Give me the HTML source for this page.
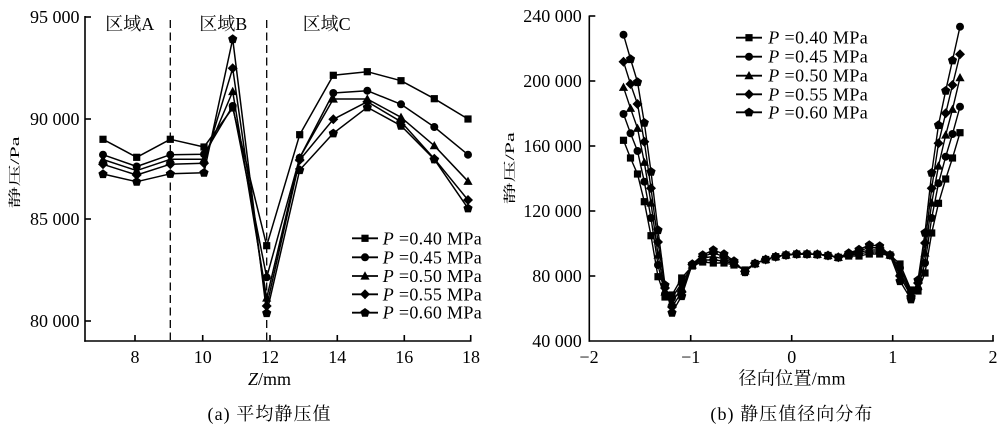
<!DOCTYPE html>
<html><head><meta charset="utf-8"><style>
html,body{margin:0;padding:0;background:#fff;}
svg{display:block;}
text{font-family:"Liberation Serif","Noto Serif CJK SC",serif;fill:#000;}
</style></head><body>
<svg width="1000" height="430" viewBox="0 0 1000 430" xmlns="http://www.w3.org/2000/svg">
<defs>
<marker id="sq" markerUnits="userSpaceOnUse" markerWidth="12" markerHeight="12" refX="6" refY="6" overflow="visible"><rect x="2.4" y="2.4" width="7.2" height="7.2" fill="#000"/></marker>
<marker id="ci" markerUnits="userSpaceOnUse" markerWidth="12" markerHeight="12" refX="6" refY="6" overflow="visible"><circle cx="6" cy="6" r="4" fill="#000"/></marker>
<marker id="tr" markerUnits="userSpaceOnUse" markerWidth="12" markerHeight="12" refX="6" refY="6" overflow="visible"><polygon points="6,1.3 10.6,9.6 1.4,9.6" fill="#000"/></marker>
<marker id="di" markerUnits="userSpaceOnUse" markerWidth="12" markerHeight="12" refX="6" refY="6" overflow="visible"><polygon points="6,1 11,6 6,11 1,6" fill="#000"/></marker>
<marker id="pe" markerUnits="userSpaceOnUse" markerWidth="12" markerHeight="12" refX="6" refY="6" overflow="visible"><polygon points="6,1.3 10.6,4.6 8.9,10.1 3.1,10.1 1.4,4.6" fill="#000"/></marker>
</defs>

<!-- ============ LEFT CHART ============ -->
<g stroke="#000" stroke-width="1.6" fill="none">
<line x1="85" y1="16" x2="85" y2="341.8"/>
<line x1="84.2" y1="341" x2="471.5" y2="341"/>
<!-- y ticks -->
<line x1="85" y1="17" x2="91" y2="17"/>
<line x1="85" y1="119" x2="91" y2="119"/>
<line x1="85" y1="219" x2="91" y2="219"/>
<line x1="85" y1="321" x2="91" y2="321"/>
<!-- x ticks -->
<line x1="135" y1="341" x2="135" y2="335"/>
<line x1="202.7" y1="341" x2="202.7" y2="335"/>
<line x1="270" y1="341" x2="270" y2="335"/>
<line x1="337.3" y1="341" x2="337.3" y2="335"/>
<line x1="404.3" y1="341" x2="404.3" y2="335"/>
<line x1="470.7" y1="341" x2="470.7" y2="335"/>
</g>
<g stroke="#000" stroke-width="1.3" stroke-dasharray="8 4.5">
<line x1="170.3" y1="20" x2="170.3" y2="340"/>
<line x1="266.7" y1="20" x2="266.7" y2="340"/>
</g>
<g font-size="18" text-anchor="end">
<text x="79.5" y="23">95 000</text>
<text x="79.5" y="125">90 000</text>
<text x="79.5" y="225">85 000</text>
<text x="79.5" y="327">80 000</text>
</g>
<g font-size="18" text-anchor="middle">
<text x="135" y="363">8</text>
<text x="202.7" y="363">10</text>
<text x="270" y="363">12</text>
<text x="337.3" y="363">14</text>
<text x="404.3" y="363">16</text>
<text x="471" y="363">18</text>
<text x="269.5" y="385"><tspan font-style="italic">Z</tspan>/mm</text>
<text x="269" y="420" textLength="123" lengthAdjust="spacing">(a)  平均静压值</text>
</g>
<g font-size="18">
<text x="105.3" y="30" textLength="49" lengthAdjust="spacingAndGlyphs">区域A</text>
<text x="199.3" y="30" textLength="48" lengthAdjust="spacingAndGlyphs">区域B</text>
<text x="302.7" y="30" textLength="48" lengthAdjust="spacingAndGlyphs">区域C</text>
</g>
<text font-size="20" dominant-baseline="central" text-anchor="middle" transform="translate(15,172.5) rotate(-90) scale(1.1,0.62)">静压/Pa</text>

<g fill="none" stroke="#000" stroke-width="1.5" stroke-linejoin="round">
<polyline marker-start="url(#sq)" marker-mid="url(#sq)" marker-end="url(#sq)" points="103,139.3 136.7,157.3 170.3,139.3 204,147 232.7,108 266.7,245.7 299.7,134.7 333.3,75.3 367.3,71.7 401,80.7 434.3,98.7 468,119"/>
<polyline marker-start="url(#ci)" marker-mid="url(#ci)" marker-end="url(#ci)" points="103,154.7 136.7,166.5 170.3,154.7 204,154.2 232.7,106 266.7,277.3 299.7,157.7 333.3,93 367.3,90.7 401,104.3 434.3,127 468,154.7"/>
<polyline marker-start="url(#tr)" marker-mid="url(#tr)" marker-end="url(#tr)" points="103,159.5 136.7,170.6 170.3,159.3 204,159.2 232.7,91.5 266.7,298 299.7,157.7 333.3,99 367.3,99 401,117.3 434.3,145.7 468,181.3"/>
<polyline marker-start="url(#di)" marker-mid="url(#di)" marker-end="url(#di)" points="103,164.3 136.7,175 170.3,164.2 204,163.3 232.7,68.3 266.7,306 299.7,160 333.3,119.3 367.3,101.7 401,121.7 434.3,158.7 468,200"/>
<polyline marker-start="url(#pe)" marker-mid="url(#pe)" marker-end="url(#pe)" points="103,174 136.7,181.7 170.3,173.8 204,172.7 232.7,39 266.7,313 299.7,170 333.3,133.3 367.3,107.3 401,125.7 434.3,159.3 468,208.3"/>
</g>

<!-- left legend -->
<g fill="none" stroke="#000" stroke-width="1.8">
<polyline marker-mid="url(#sq)" points="352,238.3 365,238.3 378,238.3"/>
<polyline marker-mid="url(#ci)" points="352,257.3 365,257.3 378,257.3"/>
<polyline marker-mid="url(#tr)" points="352,276 365,276 378,276"/>
<polyline marker-mid="url(#di)" points="352,294.3 365,294.3 378,294.3"/>
<polyline marker-mid="url(#pe)" points="352,312.7 365,312.7 378,312.7"/>
</g>
<g font-size="18">
<text x="382.7" y="244.3" textLength="99" lengthAdjust="spacing"><tspan font-style="italic">P</tspan> =0.40 MPa</text>
<text x="382.7" y="263.3" textLength="99" lengthAdjust="spacing"><tspan font-style="italic">P</tspan> =0.45 MPa</text>
<text x="382.7" y="282" textLength="99" lengthAdjust="spacing"><tspan font-style="italic">P</tspan> =0.50 MPa</text>
<text x="382.7" y="300.3" textLength="99" lengthAdjust="spacing"><tspan font-style="italic">P</tspan> =0.55 MPa</text>
<text x="382.7" y="318.7" textLength="99" lengthAdjust="spacing"><tspan font-style="italic">P</tspan> =0.60 MPa</text>
</g>

<!-- ============ RIGHT CHART ============ -->
<g stroke="#000" stroke-width="1.6" fill="none">
<line x1="589.3" y1="15.5" x2="589.3" y2="341.8"/>
<line x1="588.5" y1="341" x2="993.8" y2="341"/>
<line x1="589.3" y1="16" x2="595.3" y2="16"/>
<line x1="589.3" y1="81" x2="595.3" y2="81"/>
<line x1="589.3" y1="146" x2="595.3" y2="146"/>
<line x1="589.3" y1="211" x2="595.3" y2="211"/>
<line x1="589.3" y1="276" x2="595.3" y2="276"/>
<line x1="690.7" y1="341" x2="690.7" y2="335"/>
<line x1="791.7" y1="341" x2="791.7" y2="335"/>
<line x1="892.7" y1="341" x2="892.7" y2="335"/>
<line x1="993" y1="341" x2="993" y2="335"/>
</g>
<g font-size="18" text-anchor="end">
<text x="581.7" y="22">240 000</text>
<text x="581.7" y="87">200 000</text>
<text x="581.7" y="152">160 000</text>
<text x="581.7" y="217">120 000</text>
<text x="581.7" y="282">80 000</text>
<text x="581.7" y="347">40 000</text>
</g>
<g font-size="18" text-anchor="middle">
<text x="589" y="363">−2</text>
<text x="690.7" y="363">−1</text>
<text x="791.7" y="363">0</text>
<text x="892.7" y="363">1</text>
<text x="993" y="363">2</text>
<text x="792" y="384.5" textLength="107" lengthAdjust="spacing">径向位置/mm</text>
<text x="791.4" y="420" textLength="162" lengthAdjust="spacing">(b)  静压值径向分布</text>
</g>
<text font-size="20" dominant-baseline="central" text-anchor="middle" transform="translate(510,168.3) rotate(-90) scale(1.1,0.62)">静压/Pa</text>

<g fill="none" stroke="#000" stroke-width="1.4" stroke-linejoin="round">
<polyline marker-start="url(#sq)" marker-mid="url(#sq)" marker-end="url(#sq)" points="623.5,140.3 630.5,158 637.5,174 644.3,201.7 651,235.7 658,276.7 665,297 672,295 681.7,278 692.3,266 702.7,262 713.3,263 724,263 734,265 745,270 755,263.5 765.7,259.5 775.7,256.7 786,255 796.7,254 807,254 817.3,254.3 828,255.5 838.3,257.3 848.7,256 859,256 869.3,254 879.7,254 890,255 900,264 911,290 918,291 925,273 931.7,233 938.5,203.3 945.7,179 952.5,158 960,132.7"/>
<polyline marker-start="url(#ci)" marker-mid="url(#ci)" marker-end="url(#ci)" points="623.5,114 630.5,133.3 637.5,151 644.3,181.7 651,218 658,265 665,294 672,298 681.7,283 692.3,265.5 702.7,260 713.3,260 724,261 734,264 745,270.5 755,263.5 765.7,259.5 775.7,256.7 786,255 796.7,254 807,254 817.3,254.3 828,255.5 838.3,257.3 848.7,255 859,254 869.3,252 879.7,252 890,255 900,268 911,292 918,289 925,263 931.7,218 938.5,183.3 945.7,156.7 952.5,134 960,106.7"/>
<polyline marker-start="url(#tr)" marker-mid="url(#tr)" marker-end="url(#tr)" points="623.5,87.3 630.5,108.3 637.5,128.3 644.3,162.3 651,203 658,255 665,292 672,302 681.7,288 692.3,265 702.7,258 713.3,256.5 724,259 734,263 745,271 755,263.5 765.7,259.5 775.7,256.7 786,255 796.7,254 807,254 817.3,254.3 828,255.5 838.3,257.3 848.7,254 859,252.5 869.3,250 879.7,250 890,255 900,272 911,294 918,286 925,253 931.7,203 938.5,166 945.7,135 952.5,109.3 960,77.7"/>
<polyline marker-start="url(#di)" marker-mid="url(#di)" marker-end="url(#di)" points="623.5,61.7 630.5,84 637.5,104 644.3,141.7 651,188.3 658,242 665,288 672,307 681.7,292 692.3,264.5 702.7,256.5 713.3,253 724,256.5 734,262 745,271.5 755,263.5 765.7,259.5 775.7,256.7 786,255 796.7,254 807,254 817.3,254.3 828,255.5 838.3,257.3 848.7,253.5 859,251 869.3,247.5 879.7,248 890,255 900,276 911,296 918,283 925,243 931.7,188.3 938.5,143.3 945.7,113.3 952.5,85 960,54.3"/>
<polyline marker-start="url(#ci)" marker-mid="url(#pe)" marker-end="url(#ci)" points="623.5,34.7 630.5,59 637.5,82 644.3,122.7 651,171.7 658,230 665,285 672,312.7 681.7,296 692.3,264 702.7,255 713.3,250 724,254 734,261 745,272 755,263.5 765.7,259.5 775.7,256.7 786,255 796.7,254 807,254 817.3,254.3 828,255.5 838.3,257.3 848.7,253 859,249.5 869.3,245 879.7,246 890,255 900,281 911,299.3 918,280 925,232.7 931.7,172.7 938.5,125 945.7,90.7 952.5,60.3 960,26.7"/>
</g>

<!-- right legend -->
<g fill="none" stroke="#000" stroke-width="1.8">
<polyline marker-mid="url(#sq)" points="736,37.7 749,37.7 762,37.7"/>
<polyline marker-mid="url(#ci)" points="736,56.7 749,56.7 762,56.7"/>
<polyline marker-mid="url(#tr)" points="736,75.7 749,75.7 762,75.7"/>
<polyline marker-mid="url(#di)" points="736,94.3 749,94.3 762,94.3"/>
<polyline marker-mid="url(#pe)" points="736,112.3 749,112.3 762,112.3"/>
</g>
<g font-size="18">
<text x="768.3" y="43.7" textLength="99.4" lengthAdjust="spacing"><tspan font-style="italic">P</tspan> =0.40 MPa</text>
<text x="768.3" y="62.7" textLength="99.4" lengthAdjust="spacing"><tspan font-style="italic">P</tspan> =0.45 MPa</text>
<text x="768.3" y="81.7" textLength="99.4" lengthAdjust="spacing"><tspan font-style="italic">P</tspan> =0.50 MPa</text>
<text x="768.3" y="100.3" textLength="99.4" lengthAdjust="spacing"><tspan font-style="italic">P</tspan> =0.55 MPa</text>
<text x="768.3" y="118.3" textLength="99.4" lengthAdjust="spacing"><tspan font-style="italic">P</tspan> =0.60 MPa</text>
</g>
</svg>
</body></html>
